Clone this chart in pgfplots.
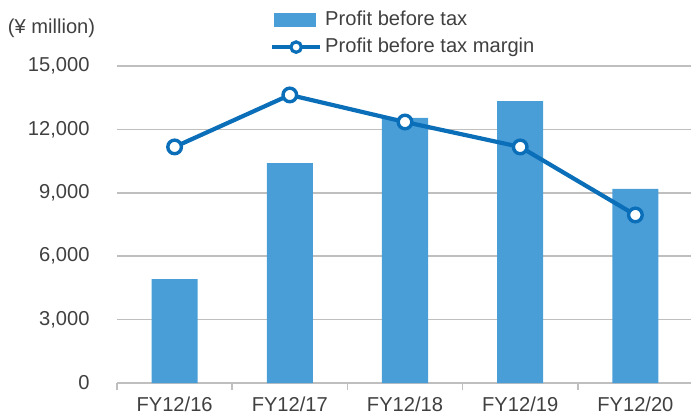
\documentclass[border=0pt]{standalone}
\usepackage{pgfplots}
\pgfplotsset{compat=1.18}
\usepackage{fontspec}
\setmainfont{Liberation Sans}
\definecolor{barblue}{HTML}{4A9ED8}
\definecolor{lineblue}{HTML}{0A6EB8}
\definecolor{gridgray}{HTML}{BFBFBF}
\definecolor{txt}{HTML}{404040}
\begin{document}
\begin{tikzpicture}[font=\fontsize{10.1}{11.5}\selectfont, text=txt]
% bars: profit before tax
\begin{axis}[
    name=main,
    at={(58.5bp,15.5bp)}, anchor=south west,
    scale only axis, width=288bp, height=158.5bp,
    xmin=-0.5, xmax=4.5, ymin=0, ymax=15000,
    xtick={0,1,2,3,4},
    xticklabels={FY12/16,FY12/17,FY12/18,FY12/19,FY12/20},
    minor xtick={-0.5,0.5,1.5,2.5,3.5,4.5},
    major x tick style={draw=none},
    minor x tick style={gridgray, line width=0.75bp},
    minor tick length=3.5bp,
    tick align=outside,
    xtick pos=bottom,
    ytick={0,3000,6000,9000,12000,15000},
    ytick style={draw=none},
    ymajorgrids, grid style={gridgray, line width=0.75bp},
    axis x line*=bottom, axis y line*=left,
    x axis line style={gridgray, line width=0.75bp},
    y axis line style={draw=none},
    /pgf/number format/1000 sep={,},
    /pgf/number format/assume math mode=true,
    yticklabel style={xshift=-6bp, anchor=east},
    xticklabel style={yshift=1bp},
    scaled y ticks=false,
    clip=false,
]
\addplot[ybar, bar width=0.4, fill=barblue, draw=none, bar shift=0] coordinates {
    (0,4920) (1,10410) (2,12540) (3,13340) (4,9180)
};
\node[anchor=west, inner sep=0] at (rel axis cs:-0.19,1.12) {(¥ million)};
\end{axis}
% line: profit before tax margin (hidden secondary scale)
\begin{axis}[
    at={(58.5bp,15.5bp)}, anchor=south west,
    scale only axis, width=288bp, height=158.5bp,
    xmin=-0.5, xmax=4.5, ymin=0, ymax=15,
    axis lines=none, ticks=none,
    clip=false,
    legend style={at={(rel axis cs:0.265,1.185)}, anchor=north west,
        draw=none, fill=none, inner sep=0pt, row sep=2bp,
        font=\fontsize{10.1}{11.5}\selectfont, text=txt,
        nodes={inner sep=1.5bp}},
    legend cell align=left,
]
\addlegendimage{area legend, legend image code/.code={
    \fill[barblue] (0bp,-3.3bp) rectangle (20.5bp,3.3bp);}}
\addlegendentry{Profit before tax}
\addplot[lineblue, line width=2.1bp, mark=*, mark size=3.4bp,
    mark options={fill=white, draw=lineblue, line width=1.7bp},
    legend image code/.code={
    \draw[lineblue, line width=2.1bp] (-1bp,0) -- (23bp,0);
    \draw[lineblue, fill=white, line width=1.6bp] (11bp,0) circle (2.6bp);}]
    coordinates {(0,11.17) (1,13.63) (2,12.35) (3,11.17) (4,7.95)};
\addlegendentry{Profit before tax margin}
\end{axis}
\pgfresetboundingbox
\path[use as bounding box] (0,0) rectangle (345.5bp,207bp);
\end{tikzpicture}
\end{document}
